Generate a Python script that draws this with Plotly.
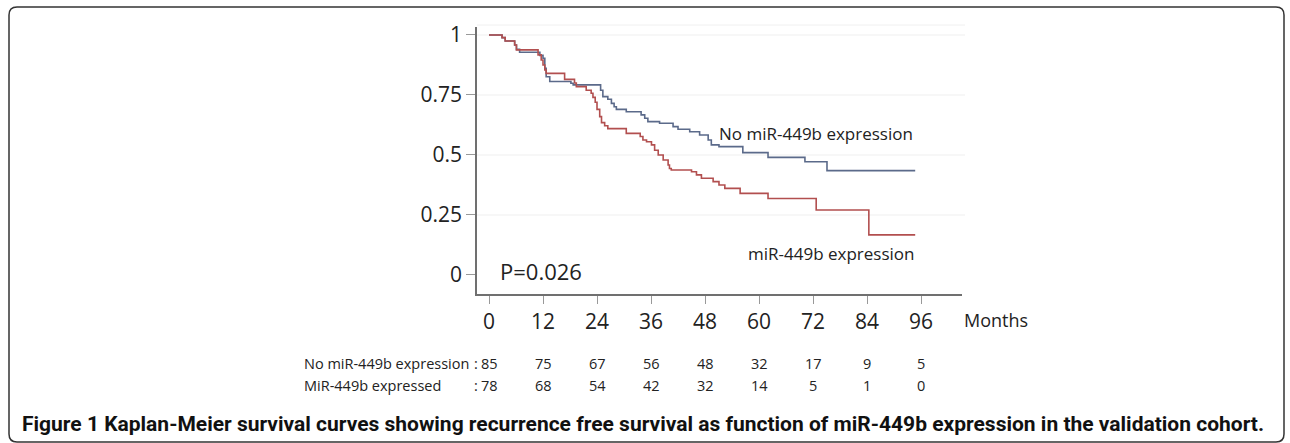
import plotly.graph_objects as go

# ---------------- data ----------------
# Kaplan-Meier step points (months, survival after the step)
months_no = [2.9, 3.6, 5.7, 6.1, 6.8, 11.3, 12.0, 12.4, 12.7, 13.5, 18.2, 18.7,
             24.8, 25.3, 26.4, 27.2, 27.8, 28.3, 30.5, 33.8, 34.6, 35.3, 37.9,
             40.9, 42.0, 44.6, 46.8, 48.7, 49.4, 51.1, 56.4, 62.0, 70.2, 75.1]
surv_no = [0.989, 0.975, 0.958, 0.94, 0.928, 0.915, 0.903, 0.861, 0.826, 0.806,
           0.799, 0.792, 0.77, 0.743, 0.732, 0.715, 0.701, 0.69, 0.68, 0.667,
           0.653, 0.639, 0.632, 0.618, 0.607, 0.597, 0.583, 0.5625, 0.542,
           0.535, 0.51, 0.49, 0.472, 0.435]
end_no = 94.7

months_yes = [2.9, 3.6, 5.7, 6.1, 10.9, 11.6, 12.0, 12.4, 12.7, 16.8, 19.0, 19.4,
              21.6, 22.7, 23.1, 23.6, 24.0, 24.6, 25.0, 25.7, 26.4, 30.5, 33.6,
              34.2, 35.0, 36.1, 36.8, 37.6, 38.7, 39.8, 40.1, 40.5, 45.0, 46.1,
              47.2, 49.8, 51.1, 52.4, 55.8, 62.0, 72.7, 84.4]
surv_yes = [0.989, 0.975, 0.958, 0.938, 0.917, 0.896, 0.875, 0.854, 0.84, 0.815,
            0.80, 0.785, 0.77, 0.757, 0.74, 0.72, 0.69, 0.66, 0.635, 0.622, 0.61,
            0.59, 0.577, 0.5625, 0.555, 0.542, 0.52, 0.5, 0.479, 0.458, 0.444,
            0.4375, 0.43, 0.417, 0.403, 0.389, 0.375, 0.361, 0.34, 0.319, 0.271,
            0.167]
end_yes = 94.7

x_ticks = [0, 12, 24, 36, 48, 60, 72, 84, 96]
y_ticks = [0, 0.25, 0.5, 0.75, 1]
y_tick_text = ["0", "0.25", "0.5", "0.75", "1"]

risk_labels = ["No miR-449b expression", "MiR-449b expressed"]
risk_no = [85, 75, 67, 56, 48, 32, 17, 9, 5]
risk_yes = [78, 68, 54, 42, 32, 14, 5, 1, 0]

label_no = "No miR-449b expression"
label_yes = "miR-449b expression"
p_text = "P=0.026"
x_title = "Months"
caption = ("<b>Figure 1 Kaplan-Meier survival curves showing recurrence free survival "
           "as function of miR-449b expression in the validation cohort.</b>")

# ---------------- layout helpers ----------------
W, H = 1290, 443
L, R, T, B = 477, 962, 27, 294


def px(x):
    return (x - L) / (R - L)


def py(y):
    return (B - y) / (B - T)


FONT = "Open Sans"
BLUE = "#5b6a8a"
RED = "#b24f4f"

fig = go.Figure()
fig.add_trace(go.Scatter(x=[0] + months_no + [end_no], y=[1] + surv_no + [surv_no[-1]],
                         mode="lines", line=dict(color=BLUE, width=1.6, shape="hv"),
                         hoverinfo="skip", showlegend=False))
fig.add_trace(go.Scatter(x=[0] + months_yes + [end_yes], y=[1] + surv_yes + [surv_yes[-1]],
                         mode="lines", line=dict(color=RED, width=1.6, shape="hv"),
                         hoverinfo="skip", showlegend=False))

fig.update_layout(
    width=W, height=H,
    margin=dict(l=L, r=W - R, t=T, b=H - B, pad=0),
    paper_bgcolor="white", plot_bgcolor="white",
    font=dict(family=FONT, color="#222"),
    showlegend=False,
    xaxis=dict(range=[-2.667, 105.1], tickvals=x_ticks, showgrid=False, zeroline=False,
               showline=True, linecolor="#707070", linewidth=1.5,
               ticks="outside", ticklen=8, tickcolor="#999", tickwidth=1.2,
               tickfont=dict(size=21, family=FONT, color="#222")),
    yaxis=dict(range=[-0.0792, 1.0333], tickvals=y_ticks, ticktext=y_tick_text,
               showgrid=False, zeroline=False,
               showline=True, linecolor="#707070", linewidth=1.5,
               ticks="outside", ticklen=9, tickcolor="#999", tickwidth=1.2,
               tickfont=dict(size=21, family=FONT, color="#222")),
)

# faint horizontal guide lines (not at 0) and at top of plot area
for yv in y_ticks[1:]:
    fig.add_shape(type="line", xref="paper", yref="y", x0=0, x1=px(965), y0=yv, y1=yv,
                  line=dict(color="#efefef", width=1), layer="below")
fig.add_shape(type="line", xref="paper", yref="paper", x0=0, x1=px(965), y0=py(25), y1=py(25),
              line=dict(color="#f0f0f0", width=1), layer="below")

ann = []
ann.append(dict(x=px(717), y=py(133), text=label_no, xanchor="left", yanchor="middle",
                font=dict(size=17, family=FONT, color="#222")))
ann.append(dict(x=px(746), y=py(253), text=label_yes, xanchor="left", yanchor="middle",
                font=dict(size=17, family=FONT, color="#222")))
ann.append(dict(x=px(498), y=py(271), text=p_text, xanchor="left", yanchor="middle",
                font=dict(size=22, family=FONT, color="#222")))
ann.append(dict(x=px(962), y=py(320), text=x_title, xanchor="left", yanchor="middle",
                font=dict(size=18, family=FONT, color="#222")))

row_y = [363, 385]
for lab, yy in zip(risk_labels, row_y):
    ann.append(dict(x=px(302), y=py(yy), text=lab, xanchor="left", yanchor="middle",
                    font=dict(size=14.5, family=FONT, color="#222")))
    ann.append(dict(x=px(476), y=py(yy), text=":", xanchor="center", yanchor="middle",
                    font=dict(size=14.5, family=FONT, color="#222")))
for vals, yy in zip([risk_no, risk_yes], row_y):
    for xv, v in zip(x_ticks, vals):
        ann.append(dict(x=xv, xref="x", y=py(yy), yref="paper", text=str(v),
                        xanchor="center", yanchor="middle", showarrow=False,
                        font=dict(size=14.5, family=FONT, color="#222")))

ann.append(dict(x=px(20), y=py(424), text=caption, xanchor="left", yanchor="middle",
                font=dict(size=21, family="Liberation Sans Narrow, Roboto, sans-serif",
                          color="#111")))

for a in ann:
    a.setdefault("xref", "paper")
    a.setdefault("yref", "paper")
    a.setdefault("showarrow", False)
fig.update_layout(annotations=ann)

# rounded frame around the figure
x0, x1, y0, y1, r = px(9), px(1284), py(7), py(442), 8
rx, ry = r / (R - L), r / (B - T)
path = (f"M {x0 + rx},{y0} L {x1 - rx},{y0} Q {x1},{y0} {x1},{y0 - ry} "
        f"L {x1},{y1 + ry} Q {x1},{y1} {x1 - rx},{y1} "
        f"L {x0 + rx},{y1} Q {x0},{y1} {x0},{y1 + ry} "
        f"L {x0},{y0 - ry} Q {x0},{y0} {x0 + rx},{y0} Z")
fig.add_shape(type="path", xref="paper", yref="paper", path=path,
              line=dict(color="#333", width=1.5), layer="below")

fig.write_html("out.html", config={"displayModeBar": False},
               post_script="document.body.style.margin='0';document.body.style.padding='0';")
